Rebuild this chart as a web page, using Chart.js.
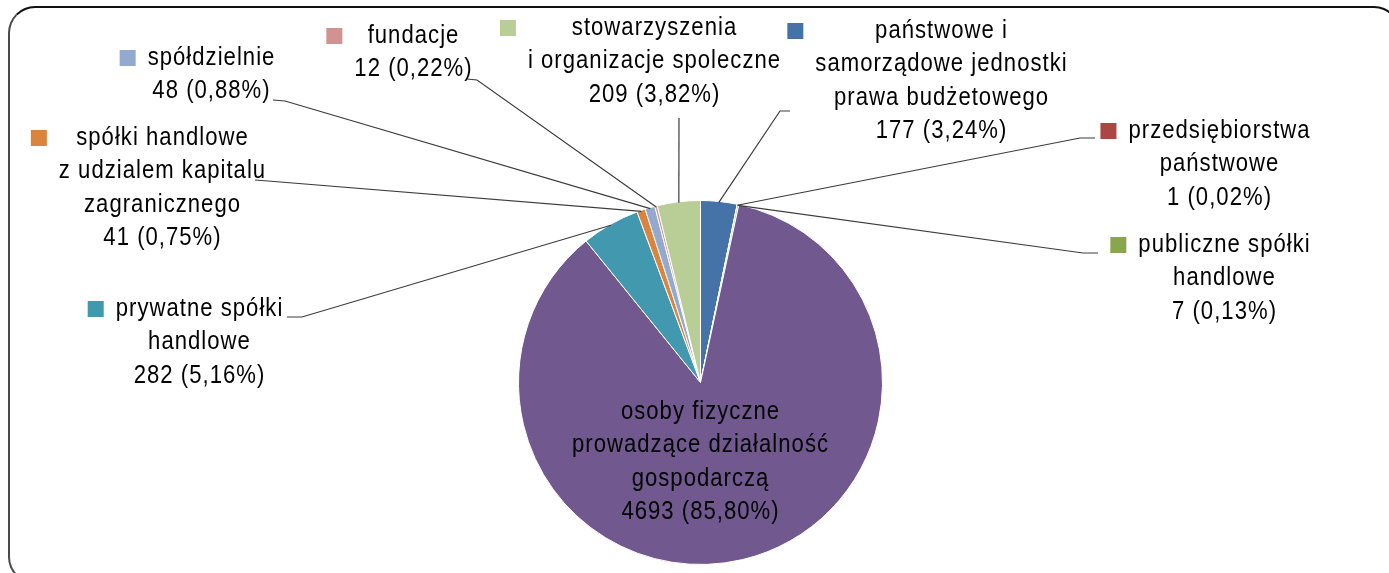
<!DOCTYPE html>
<html><head><meta charset="utf-8">
<script src="https://cdn.jsdelivr.net/npm/chart.js@4"></script>
<style>
html,body{margin:0;padding:0;width:1389px;height:573px;overflow:hidden;background:#fff}
#frame{position:absolute;left:8px;top:6px;width:1393px;height:578px;box-sizing:border-box;border:2px solid #4a4a4a;border-top-color:#111;border-radius:27px}
#wrap{position:absolute;left:0;top:0;width:1389px;height:573px}
</style></head><body>
<div id="frame"></div>
<div id="wrap"><canvas id="c" width="1389" height="573"></canvas></div>
<script>
// ---- data ----
const categories = [
  'państwowe i samorządowe jednostki prawa budżetowego',
  'przedsiębiorstwa państwowe',
  'publiczne spółki handlowe',
  'osoby fizyczne prowadzące działalność gospodarczą',
  'prywatne spółki handlowe',
  'spółki handlowe z udzialem kapitalu zagranicznego',
  'spółdzielnie',
  'fundacje',
  'stowarzyszenia i organizacje spoleczne'
];
const labelLines = [
  ['państwowe i', 'samorządowe jednostki', 'prawa budżetowego'],
  ['przedsiębiorstwa', 'państwowe'],
  ['publiczne spółki', 'handlowe'],
  ['osoby fizyczne', 'prowadzące działalność', 'gospodarczą'],
  ['prywatne spółki', 'handlowe'],
  ['spółki handlowe', 'z udzialem kapitalu', 'zagranicznego'],
  ['spółdzielnie'],
  ['fundacje'],
  ['stowarzyszenia', 'i organizacje spoleczne']
];
const values = [177, 1, 7, 4693, 282, 41, 48, 12, 209];
const colors = ['#4572A7', '#AA4643', '#89A54E', '#71588F', '#4198AF', '#DB843D', '#93A9CF', '#D19392', '#B9CD96'];

// ---- label layout (positions only) ----
const labelLayout = [
  {x: 941, y: 31, leader: [[790, 111], [780, 111]]},
  {x: 1219, y: 131, leader: [[1095, 138], [1080, 138]]},
  {x: 1224, y: 245, leader: [[1098, 253], [1083, 253]]},
  {x: 700, y: 412, inside: true},
  {x: 199, y: 309, leader: [[287, 317], [302, 317]]},
  {x: 162, y: 138, leader: [[255, 180], [268, 181]]},
  {x: 211, y: 58, leader: [[273, 100], [285, 101]]},
  {x: 413, y: 36, leader: [[467, 79], [477, 80]]},
  {x: 654, y: 28, leader: [[679, 118]]}
];
const LINE_H = 33.3;
const FONT = '26px "Liberation Sans", Arial, sans-serif';
const SX = 0.85;          // horizontal condensing of the label font
const SPACING = 1.2;      // letter spacing (unscaled px)

const total = values.reduce((a, b) => a + b, 0);

const labelPlugin = {
  id: 'labels',
  afterDatasetsDraw(chart) {
    const ctx = chart.ctx;
    const meta = chart.getDatasetMeta(0);
    ctx.save();
    // leader lines
    ctx.strokeStyle = '#3c3c3c';
    ctx.lineWidth = 1.2;
    meta.data.forEach((arc, i) => {
      const lay = labelLayout[i];
      if (lay.inside) return;
      const p = arc.getProps(['x', 'y', 'startAngle', 'endAngle', 'outerRadius'], true);
      const mid = (p.startAngle + p.endAngle) / 2;
      const ex = p.x + Math.cos(mid) * (p.outerRadius - 1);
      const ey = p.y + Math.sin(mid) * (p.outerRadius - 1);
      ctx.beginPath();
      ctx.moveTo(lay.leader[0][0], lay.leader[0][1]);
      for (let k = 1; k < lay.leader.length; k++) ctx.lineTo(lay.leader[k][0], lay.leader[k][1]);
      ctx.lineTo(ex, ey);
      ctx.stroke();
    });
    // text
    ctx.font = FONT;
    if ('letterSpacing' in ctx) ctx.letterSpacing = SPACING + 'px';
    ctx.textAlign = 'center';
    ctx.textBaseline = 'middle';
    meta.data.forEach((arc, i) => {
      const lay = labelLayout[i];
      const pct = (values[i] / total * 100).toFixed(2).replace('.', ',');
      const lines = labelLines[i].concat([values[i] + ' (' + pct + '%)']);
      let maxW = 0;
      lines.forEach(t => { maxW = Math.max(maxW, (ctx.measureText(t).width - SPACING) * SX); });
      ctx.fillStyle = '#000';
      lines.forEach((t, k) => {
        ctx.save();
        ctx.translate(lay.x + SPACING * SX / 2, lay.y + k * LINE_H);
        ctx.scale(SX, 1);
        ctx.fillText(t, 0, 0);
        ctx.restore();
      });
      if (!lay.inside) {
        const left = lay.x - maxW / 2;
        ctx.fillStyle = colors[i];
        ctx.fillRect(left - 12 - 16, lay.y - 8, 16, 16);
      }
    });
    ctx.restore();
  }
};

new Chart(document.getElementById('c'), {
  type: 'pie',
  data: {
    labels: categories,
    datasets: [{
      data: values,
      backgroundColor: colors,
      borderColor: '#ffffff',
      borderWidth: 1
    }]
  },
  options: {
    responsive: false,
    animation: false,
    layout: {padding: {left: 518, right: 506, top: 200, bottom: 8}},
    plugins: {legend: {display: false}, tooltip: {enabled: false}}
  },
  plugins: [labelPlugin]
});
</script>
</body></html>
